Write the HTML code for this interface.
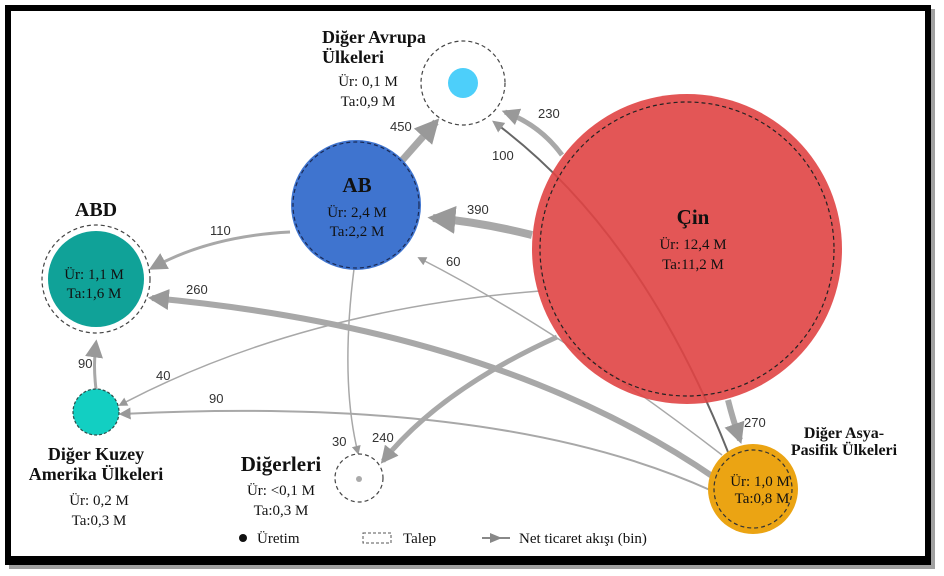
<!DOCTYPE html>
<html><head><meta charset="utf-8"><style>
html,body{margin:0;padding:0;background:#fff;}
svg{display:block;}
.s{font-family:"Liberation Serif",serif;fill:#111;}
.n{font-family:"Liberation Sans",sans-serif;font-size:13px;fill:#333;}
</style></head><body>
<svg width="944" height="576" viewBox="0 0 944 576" xmlns="http://www.w3.org/2000/svg">
<defs>
<marker id="a" viewBox="0 0 10 10" refX="8" refY="5" markerWidth="3.5" markerHeight="3.5" orient="auto"><path d="M0,0L10,5L0,10z" fill="#999"/></marker>
<marker id="b" viewBox="0 0 10 10" refX="8" refY="5" markerWidth="6" markerHeight="6" orient="auto"><path d="M0,0L10,5L0,10z" fill="#999"/></marker>
</defs>
<rect x="9" y="9" width="926" height="560" fill="#444" opacity="0.5"/>
<rect x="5" y="5" width="926" height="560" fill="#000"/>
<rect x="11" y="11" width="914" height="545" fill="#fff"/>

<g fill="none" stroke="#a8a8a8" stroke-linecap="butt">
<path d="M398,165 Q420,140 436,122" stroke-width="7" marker-end="url(#a)"/>
<path d="M562,155 Q540,125 505,112" stroke-width="5" marker-end="url(#a)"/>
<path d="M532,235 Q480,222 433,218" stroke-width="8" marker-end="url(#a)"/>
<path d="M290,232 Q210,236 152,268" stroke-width="3" marker-end="url(#b)"/>
<path d="M715,478 Q500,330 152,298" stroke-width="6" marker-end="url(#a)"/>
<path d="M96,389 Q93,365 96,343" stroke-width="3" marker-end="url(#b)"/>
<path d="M540,291 Q300,310 120,405" stroke-width="1.5" marker-end="url(#b)"/>
<path d="M710,490 Q500,395 121,414" stroke-width="2" marker-end="url(#b)"/>
<path d="M354,269 Q340,380 358,453" stroke-width="1.5" marker-end="url(#b)"/>
<path d="M557,337 Q440,390 383,461" stroke-width="5" marker-end="url(#a)"/>
<path d="M728,400 Q733,420 740,440" stroke-width="6" marker-end="url(#a)"/>
<path d="M722,455 Q560,330 419,258" stroke-width="1.5" marker-end="url(#b)"/>
</g>
<path d="M728,452 Q640,230 494,122" fill="none" stroke="#666" stroke-width="2" marker-end="url(#b)"/>

<!-- Çin -->
<circle cx="687" cy="249" r="155" fill="#e04444" opacity="0.9"/>
<circle cx="687" cy="249" r="147" fill="none" stroke="#222" stroke-width="1.2" stroke-dasharray="4,3"/>

<!-- AB -->
<circle cx="356" cy="205" r="65" fill="#3f74cf"/>
<circle cx="356" cy="205" r="63" fill="none" stroke="#1a2a55" stroke-width="1.2" stroke-dasharray="4,3"/>
<circle cx="463" cy="83" r="42" fill="#fff" stroke="#444" stroke-width="1.2" stroke-dasharray="4,3"/>
<circle cx="463" cy="83" r="15" fill="#4dcffa"/>
<circle cx="96" cy="279" r="54" fill="#fff" stroke="#444" stroke-width="1.2" stroke-dasharray="4,3"/>
<circle cx="96" cy="279" r="48" fill="#10a298"/>
<circle cx="96" cy="412" r="23" fill="#12cfc2" stroke="#2a4f4b" stroke-width="1.2" stroke-dasharray="3,2"/>
<circle cx="359" cy="478" r="24" fill="#fff" stroke="#444" stroke-width="1.2" stroke-dasharray="4,3"/>
<circle cx="359" cy="479" r="3" fill="#aaa"/>
<circle cx="753" cy="489" r="45" fill="#eba413"/>
<circle cx="753" cy="489" r="39" fill="none" stroke="#333" stroke-width="1.2" stroke-dasharray="4,3"/>

<text class="n" x="390" y="131">450</text>
<text class="n" x="538" y="118">230</text>
<text class="n" x="492" y="160">100</text>
<text class="n" x="467" y="214">390</text>
<text class="n" x="210" y="235">110</text>
<text class="n" x="446" y="266">60</text>
<text class="n" x="186" y="294">260</text>
<text class="n" x="78" y="368">90</text>
<text class="n" x="156" y="380">40</text>
<text class="n" x="209" y="403">90</text>
<text class="n" x="332" y="446">30</text>
<text class="n" x="372" y="442">240</text>
<text class="n" x="744" y="427">270</text>

<text class="s" x="322" y="43" font-size="18" font-weight="bold">Diğer Avrupa</text>
<text class="s" x="322" y="63" font-size="18" font-weight="bold">Ülkeleri</text>
<text class="s" x="368" y="86" font-size="15" text-anchor="middle">Ür: 0,1 M</text>
<text class="s" x="368" y="106" font-size="15" text-anchor="middle">Ta:0,9 M</text>

<text class="s" x="357" y="192" font-size="21" font-weight="bold" text-anchor="middle">AB</text>
<text class="s" x="357" y="217" font-size="15" text-anchor="middle">Ür: 2,4 M</text>
<text class="s" x="357" y="236" font-size="15" text-anchor="middle">Ta:2,2 M</text>

<text class="s" x="96" y="216" font-size="20" font-weight="bold" text-anchor="middle">ABD</text>
<text class="s" x="94" y="279" font-size="15" text-anchor="middle">Ür: 1,1 M</text>
<text class="s" x="94" y="298" font-size="15" text-anchor="middle">Ta:1,6 M</text>

<text class="s" x="693" y="224" font-size="21" font-weight="bold" text-anchor="middle">Çin</text>
<text class="s" x="693" y="249" font-size="15" text-anchor="middle">Ür: 12,4 M</text>
<text class="s" x="693" y="269" font-size="15" text-anchor="middle">Ta:11,2 M</text>

<text class="s" x="96" y="460" font-size="18" font-weight="bold" text-anchor="middle">Diğer Kuzey</text>
<text class="s" x="96" y="480" font-size="18" font-weight="bold" text-anchor="middle">Amerika Ülkeleri</text>
<text class="s" x="99" y="505" font-size="15" text-anchor="middle">Ür: 0,2 M</text>
<text class="s" x="99" y="525" font-size="15" text-anchor="middle">Ta:0,3 M</text>

<text class="s" x="281" y="471" font-size="21" font-weight="bold" text-anchor="middle">Diğerleri</text>
<text class="s" x="281" y="495" font-size="15" text-anchor="middle">Ür: &lt;0,1 M</text>
<text class="s" x="281" y="515" font-size="15" text-anchor="middle">Ta:0,3 M</text>

<text class="s" x="844" y="438" font-size="16" font-weight="bold" text-anchor="middle">Diğer Asya-</text>
<text class="s" x="844" y="455" font-size="16" font-weight="bold" text-anchor="middle">Pasifik Ülkeleri</text>
<text class="s" x="760" y="486" font-size="15" text-anchor="middle">Ür: 1,0 M</text>
<text class="s" x="762" y="503" font-size="15" text-anchor="middle">Ta:0,8 M</text>

<circle cx="243" cy="538" r="4" fill="#111"/>
<text class="s" x="257" y="543" font-size="15">Üretim</text>
<rect x="363" y="533" width="28" height="10" fill="none" stroke="#555" stroke-dasharray="3,2"/>
<text class="s" x="403" y="543" font-size="15">Talep</text>
<line x1="482" y1="538" x2="510" y2="538" stroke="#888" stroke-width="2"/>
<path d="M490,533L502,538L490,543z" fill="#888"/>
<text class="s" x="519" y="543" font-size="15">Net ticaret akışı (bin)</text>
</svg>
</body></html>
